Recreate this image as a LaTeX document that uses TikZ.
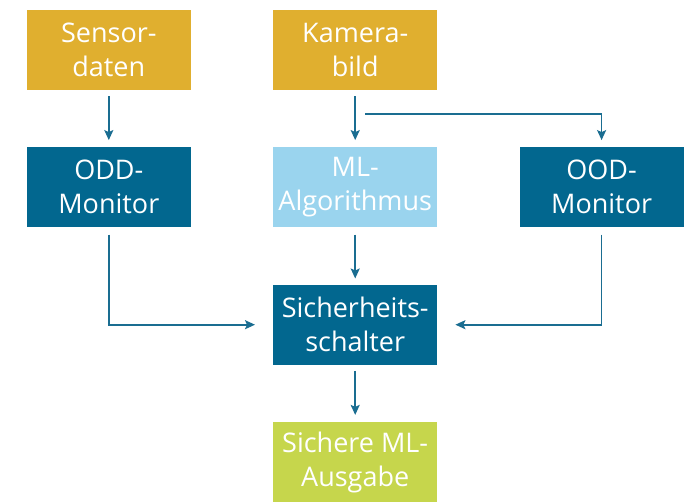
\documentclass[tikz,border=0pt]{standalone}
\usepackage{fontspec}
\setmainfont{Open Sans}
\usetikzlibrary{positioning}
\usetikzlibrary{calc}
\usetikzlibrary{arrows.meta}
\definecolor{gold}{HTML}{E0AF2F}
\definecolor{darkteal}{HTML}{02678F}
\definecolor{lightblue}{HTML}{9AD4EE}
\definecolor{lime}{HTML}{C6D64C}
\definecolor{arrowblue}{HTML}{1A6D91}
\tikzset{
	box/.style={minimum width=164pt,minimum height=80pt,inner sep=0pt,align=center,text=white,font=\fontsize{27}{34}\selectfont},
	sourcebox/.style={box,fill=gold},
	monitorbox/.style={box,fill=darkteal},
	algobox/.style={box,fill=lightblue},
	resultbox/.style={box,fill=lime},
	conn/.style={draw=arrowblue,line width=1.6pt,-{Stealth[length=10pt,width=9pt,inset=2pt]}},
}

\begin{document}
\begin{tikzpicture}[x=1pt,y=-1pt,node distance=57pt and 82pt]
	\useasboundingbox (0,0) rectangle (693,501);

	% inputs.....................
	\node [sourcebox] (sens) at (108.8,49.9) {Sensor-\\daten};
	\node [sourcebox, right=of sens] (kam) {Kamera-\\bild};

	% middle row.................
	\node [monitorbox, below=of sens] (odd) {ODD-\\Monitor};
	\node [algobox, below=of kam] (ml) {ML-\\Algorithmus};
	\node [monitorbox, right=of ml] (ood) {OOD-\\Monitor};

	% switch and output..........
	\node [monitorbox, below=of ml] (sich) {Sicherheits-\\schalter};
	\node [resultbox, below=of sich] (out) {Sichere ML-\\Ausgabe};

	% arrows.....................
	\draw [conn, shorten <=6pt, shorten >=7pt] (sens) -- (odd);
	\draw [conn, shorten <=6pt, shorten >=7pt] (kam) -- (ml);
	\coordinate (split) at ($(kam.south)+(10,24)$);
	\draw [conn, shorten >=7pt] (split) -| (ood.north);
	\draw [conn, shorten <=7pt, shorten >=6pt] (ml) -- (sich);
	\draw [conn, shorten <=7pt, shorten >=18pt] (odd.south) |- (sich.west);
	\draw [conn, shorten <=7pt, shorten >=18pt] (ood.south) |- (sich.east);
	\draw [conn, shorten <=6pt, shorten >=7pt] (sich) -- (out);

\end{tikzpicture}
\end{document}
